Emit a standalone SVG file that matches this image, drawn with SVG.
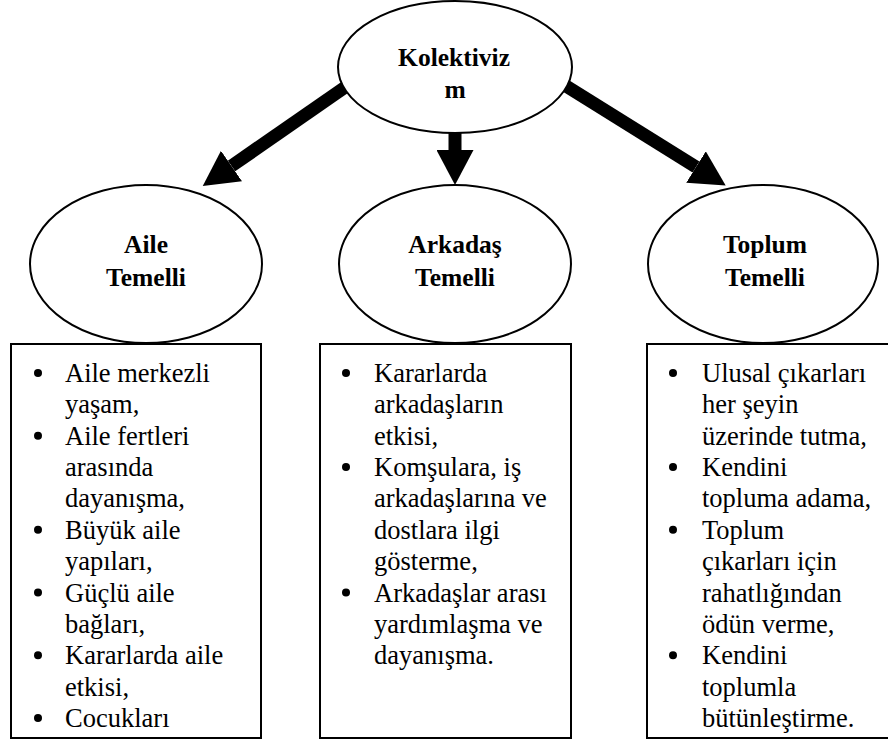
<svg xmlns="http://www.w3.org/2000/svg" width="888" height="740" viewBox="0 0 888 740">
  <style>
    .node { fill: #ffffff; stroke: #000000; stroke-width: 2; }
    .box { fill: #ffffff; stroke: #000000; stroke-width: 2; }
    text { font-family: "Times New Roman", "Liberation Serif", "DejaVu Serif", serif; fill: #000000; }
    .title { font-weight: bold; font-size: 25.5px; text-anchor: middle; }
    .item { font-size: 26.5px; }
    .bullet { fill: #000000; }
    .arrow { stroke: #000000; stroke-width: 13; fill: none; marker-end: url(#head); }
  </style>
  <defs>
    <marker id="head" markerUnits="userSpaceOnUse" markerWidth="35" markerHeight="37" viewBox="0 0 35 37" refX="0" refY="18.5" orient="auto">
      <path d="M0,0 L35,18.5 L0,37 Z" fill="#000000"/>
    </marker>
  </defs>

  <!-- connectors: thick block arrows from the root to the three branches -->
  <g id="connectors">
    <line class="arrow" x1="354" y1="81" x2="231.5" y2="166"/>
    <line class="arrow" x1="455" y1="120" x2="455" y2="150"/>
    <line class="arrow" x1="560" y1="82.2" x2="696" y2="167"/>
  </g>

  <!-- root -->
  <g id="kolektivizm">
    <ellipse class="node" cx="455" cy="67" rx="117" ry="66"/>
    <text class="title" x="454" y="66">Kolektiviz</text>
    <text class="title" x="455" y="98">m</text>
  </g>

  <!-- branch nodes -->
  <g id="aile-temelli">
    <ellipse class="node" cx="146" cy="264" rx="116" ry="79"/>
    <text class="title" x="146" y="253">Aile</text>
    <text class="title" x="146" y="286">Temelli</text>
  </g>
  <g id="arkadas-temelli">
    <ellipse class="node" cx="455" cy="264" rx="116" ry="79"/>
    <text class="title" x="455" y="253">Arkadaş</text>
    <text class="title" x="455" y="286">Temelli</text>
  </g>
  <g id="toplum-temelli">
    <ellipse class="node" cx="763" cy="264" rx="115" ry="79"/>
    <text class="title" x="765" y="253">Toplum</text>
    <text class="title" x="765" y="286">Temelli</text>
  </g>

  <!-- detail lists -->
  <g id="aile-list">
    <rect class="box" x="11" y="344" width="250" height="394"/>
    <circle class="bullet" cx="38" cy="373" r="4"/>
    <circle class="bullet" cx="38" cy="435.7" r="4"/>
    <circle class="bullet" cx="38" cy="529.8" r="4"/>
    <circle class="bullet" cx="38" cy="592.5" r="4"/>
    <circle class="bullet" cx="38" cy="655.2" r="4"/>
    <circle class="bullet" cx="38" cy="718" r="4"/>
    <text class="item" x="65" y="382">Aile merkezli</text>
    <text class="item" x="65" y="413.4">yaşam,</text>
    <text class="item" x="65" y="444.7">Aile fertleri</text>
    <text class="item" x="65" y="476.1">arasında</text>
    <text class="item" x="65" y="507.4">dayanışma,</text>
    <text class="item" x="65" y="538.8">Büyük aile</text>
    <text class="item" x="65" y="570.2">yapıları,</text>
    <text class="item" x="65" y="601.5">Güçlü aile</text>
    <text class="item" x="65" y="632.9">bağları,</text>
    <text class="item" x="65" y="664.2">Kararlarda aile</text>
    <text class="item" x="65" y="695.6">etkisi,</text>
    <text class="item" x="65" y="727">Cocukları</text>
  </g>

  <g id="arkadas-list">
    <rect class="box" x="320" y="344" width="251" height="394"/>
    <circle class="bullet" cx="346" cy="373" r="4"/>
    <circle class="bullet" cx="346" cy="467.1" r="4"/>
    <circle class="bullet" cx="346" cy="592.5" r="4"/>
    <text class="item" x="374" y="382">Kararlarda</text>
    <text class="item" x="374" y="413.4">arkadaşların</text>
    <text class="item" x="374" y="444.7">etkisi,</text>
    <text class="item" x="374" y="476.1">Komşulara, iş</text>
    <text class="item" x="374" y="507.4">arkadaşlarına ve</text>
    <text class="item" x="374" y="538.8">dostlara ilgi</text>
    <text class="item" x="374" y="570.2">gösterme,</text>
    <text class="item" x="374" y="601.5">Arkadaşlar arası</text>
    <text class="item" x="374" y="632.9">yardımlaşma ve</text>
    <text class="item" x="374" y="664.2">dayanışma.</text>
  </g>

  <g id="toplum-list">
    <rect class="box" x="647" y="344" width="250" height="394"/>
    <circle class="bullet" cx="673" cy="373" r="4"/>
    <circle class="bullet" cx="673" cy="467.1" r="4"/>
    <circle class="bullet" cx="673" cy="529.8" r="4"/>
    <circle class="bullet" cx="673" cy="655.2" r="4"/>
    <text class="item" x="702" y="382">Ulusal çıkarları</text>
    <text class="item" x="702" y="413.4">her şeyin</text>
    <text class="item" x="702" y="444.7">üzerinde tutma,</text>
    <text class="item" x="702" y="476.1">Kendini</text>
    <text class="item" x="702" y="507.4">topluma adama,</text>
    <text class="item" x="702" y="538.8">Toplum</text>
    <text class="item" x="702" y="570.2">çıkarları için</text>
    <text class="item" x="702" y="601.5">rahatlığından</text>
    <text class="item" x="702" y="632.9">ödün verme,</text>
    <text class="item" x="702" y="664.2">Kendini</text>
    <text class="item" x="702" y="695.6">toplumla</text>
    <text class="item" x="702" y="727">bütünleştirme.</text>
  </g>
</svg>
